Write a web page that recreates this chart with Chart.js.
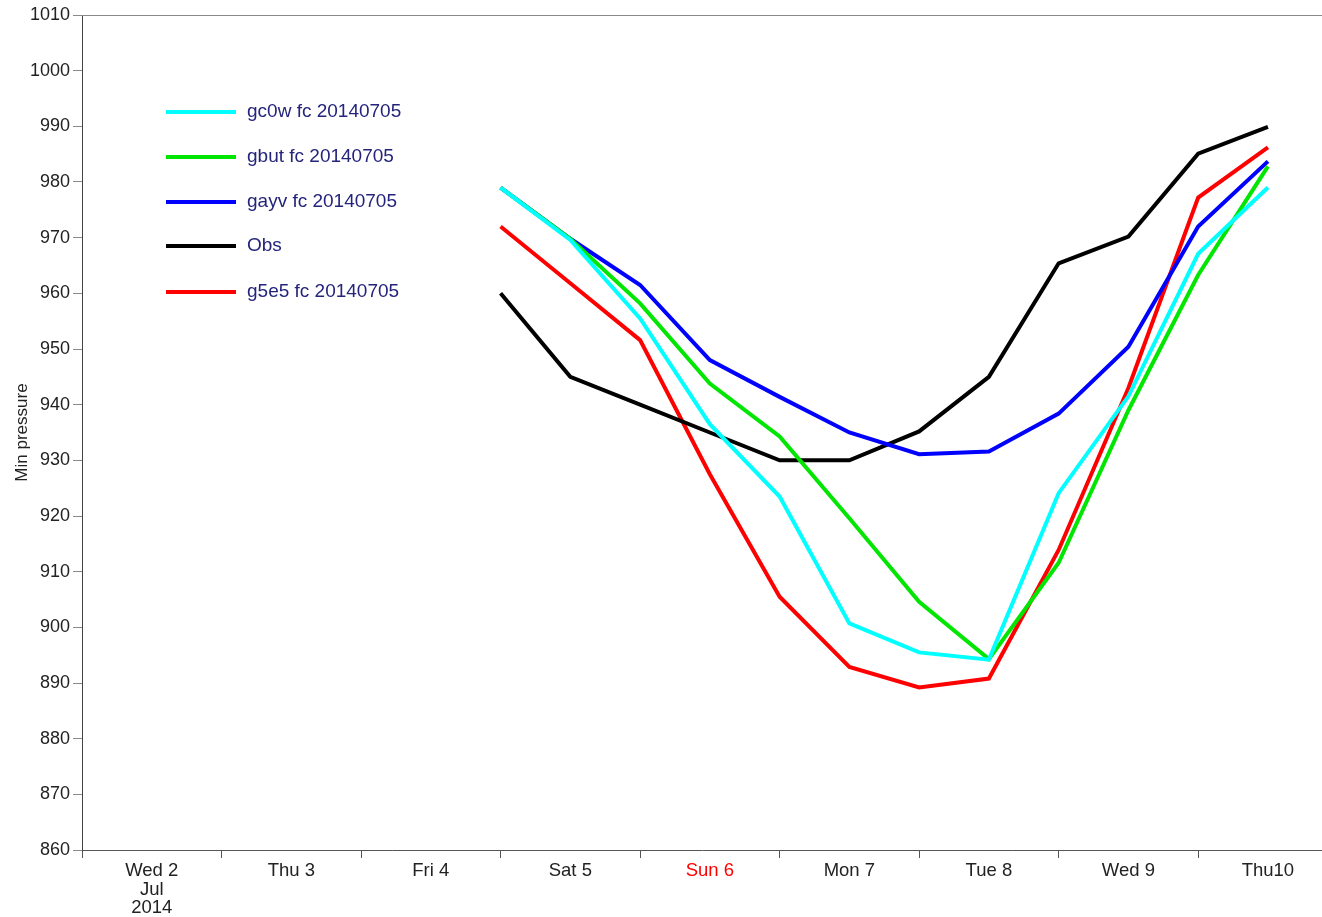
<!DOCTYPE html>
<html>
<head>
<meta charset="utf-8">
<script src="https://cdn.jsdelivr.net/npm/chart.js@4/dist/chart.umd.min.js"></script>
<style>
  html, body { margin: 0; padding: 0; background: #fff; }
  canvas { display: block; }
</style>
</head>
<body>
<canvas id="pressureChart" width="1322" height="917"></canvas>
<script>
// ---- data (hours since Wed 2 Jul 2014 00Z) ----
const validHours = [72, 84, 96, 108, 120, 132, 144, 156, 168, 180, 192, 204];

const gc0w = [979, 969.6, 955.5, 936.5, 923.5, 900.7, 895.5, 894.2, 924.1, 941.5, 967.1, 979];
const gbut = [979, 969.8, 958.2, 943.8, 934.3, 919.6, 904.6, 894.3, 911.6, 939, 963.3, 982.8];
const gayv = [979, 969.8, 961.5, 948, 941.4, 935, 931.1, 931.6, 938.4, 950.4, 972, 983.7];
const obs  = [960, 945, 940, 935, 930, 930, 935.2, 945, 965.4, 970.2, 985.1, 989.9];
const g5e5 = [972, 961.8, 951.6, 927.5, 905.5, 892.9, 889.2, 890.8, 913.9, 943, 977.2, 986.2];

const seriesNames  = ['gc0w fc 20140705', 'gbut fc 20140705', 'gayv fc 20140705', 'Obs', 'g5e5 fc 20140705'];
const seriesColors = ['#00ffff', '#00e600', '#0000ff', '#000000', '#ff0000'];

// day boundaries + labels centred in each day
const dayStarts = [0, 24, 48, 72, 96, 120, 144, 168, 192];
const dayLabels = [['Wed 2', 'Jul', '2014'], 'Thu 3', 'Fri 4', 'Sat 5', 'Sun 6', 'Mon 7', 'Tue 8', 'Wed 9', 'Thu10'];
const yTicks = [860, 870, 880, 890, 900, 910, 920, 930, 940, 950, 960, 970, 980, 990, 1000, 1010];

const FONT = 'Liberation Sans, Arial, Helvetica, sans-serif';

const toPoints = (vals) => vals.map((v, i) => ({ x: validHours[i], y: v }));
const allSeries = [gc0w, gbut, gayv, obs, g5e5];

// label lookup for the half-day ticks
const labelAt = {};
dayStarts.forEach((h, i) => { labelAt[h + 12] = dayLabels[i]; });

// ---- legend + top border drawn by hand ----
const customLegend = {
  id: 'customLegend',
  afterDraw(chart) {
    const { ctx, chartArea } = chart;
    ctx.save();
    // top frame line
    ctx.strokeStyle = '#8a8a8a';
    ctx.lineWidth = 1;
    ctx.beginPath();
    ctx.moveTo(chartArea.left, chartArea.top + 0.5);
    ctx.lineTo(chartArea.right, chartArea.top + 0.5);
    ctx.stroke();

    const ys = [112, 157, 202, 246, 292];
    chart.data.datasets.forEach((ds, i) => {
      const y = ys[i];
      ctx.strokeStyle = ds.borderColor;
      ctx.lineWidth = 4;
      ctx.beginPath();
      ctx.moveTo(166, y);
      ctx.lineTo(236, y);
      ctx.stroke();
      ctx.fillStyle = '#24247c';
      ctx.font = '19px ' + FONT;
      ctx.textBaseline = 'middle';
      ctx.textAlign = 'left';
      ctx.fillText(ds.label, 247, y);
    });
    ctx.restore();
  }
};

new Chart(document.getElementById('pressureChart'), {
  type: 'line',
  data: {
    datasets: allSeries.map((vals, i) => ({
      label: seriesNames[i],
      data: toPoints(vals),
      borderColor: seriesColors[i],
      backgroundColor: seriesColors[i],
      borderWidth: 4,
      pointRadius: 0,
      tension: 0,
      fill: false
    }))
  },
  options: {
    responsive: false,
    animation: false,
    layout: { padding: { top: 15, right: 0, left: 0, bottom: 0 } },
    plugins: {
      legend: { display: false },
      tooltip: { enabled: false }
    },
    scales: {
      x: {
        type: 'linear',
        min: 0,
        max: 213.3,
        afterBuildTicks: (scale) => {
          const t = [];
          dayStarts.forEach(h => { t.push({ value: h }); t.push({ value: h + 12 }); });
          scale.ticks = t;
        },
        afterFit: (scale) => { scale.height = 67; },
        border: { display: true, color: '#555', width: 1 },
        grid: {
          drawOnChartArea: false,
          drawTicks: true,
          tickLength: 8,
          tickColor: (c) => (c.tick && c.tick.value % 24 === 0 ? '#555' : 'rgba(0,0,0,0)')
        },
        ticks: {
          autoSkip: false,
          maxRotation: 0,
          padding: 4,
          font: { family: FONT, size: 18.5, lineHeight: 1.0 },
          color: (c) => (labelAt[c.tick.value] === 'Sun 6' ? '#ff0000' : '#222'),
          callback: (v) => labelAt[v] || ''
        }
      },
      y: {
        min: 860,
        max: 1010,
        afterBuildTicks: (scale) => { scale.ticks = yTicks.map(v => ({ value: v })); },
        afterFit: (scale) => { scale.width = 82; },
        border: { display: true, color: '#444', width: 1 },
        grid: { drawOnChartArea: false, tickLength: 9, tickColor: '#8a8a8a' },
        ticks: {
          padding: 3,
          color: '#222',
          font: { family: FONT, size: 18 },
          callback: (v) => String(v)
        },
        title: {
          display: true,
          text: 'Min pressure',
          color: '#222',
          padding: { top: 12, bottom: 0 },
          font: { family: FONT, size: 17 }
        }
      }
    }
  },
  plugins: [customLegend]
});
</script>
</body>
</html>
